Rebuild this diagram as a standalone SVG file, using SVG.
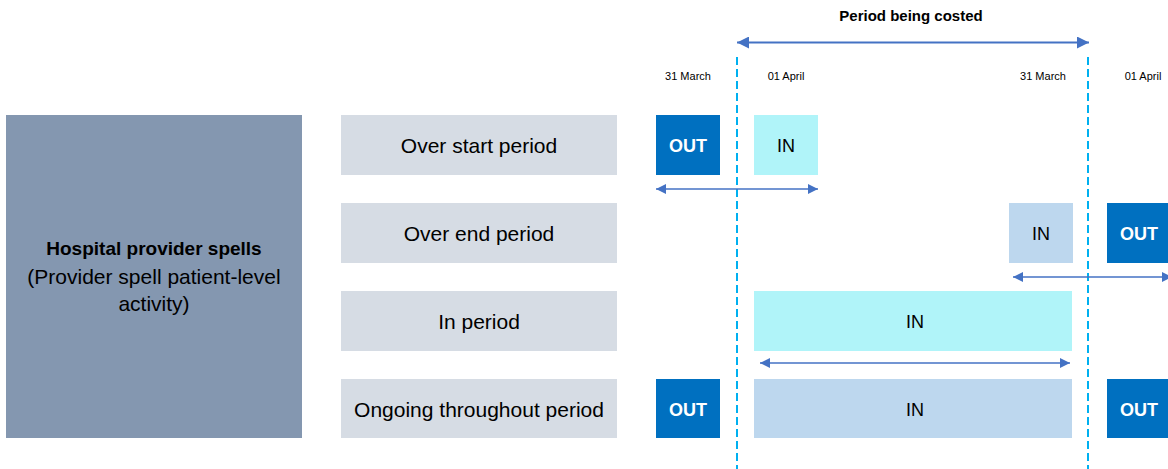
<svg xmlns="http://www.w3.org/2000/svg" width="1168" height="469" viewBox="0 0 1168 469">
<style>
text{font-family:"Liberation Sans",Arial,sans-serif;}
.lbl{fill:#D6DCE4;}
.lt{font-size:21px;fill:#000;text-anchor:middle;}
.out{fill:#0070C0;}
.ot{font-size:18px;font-weight:bold;fill:#fff;text-anchor:middle;}
.in1{fill:#B0F4F9;}
.in2{fill:#BDD7EE;}
.it{font-size:18px;fill:#000;text-anchor:middle;}
.date{font-size:11px;fill:#000;text-anchor:middle;}
.arr{stroke:#4472C4;stroke-width:1.5;fill:none;marker-start:url(#ah);marker-end:url(#ah);}
.dash{stroke:#00B0F0;stroke-width:2;stroke-dasharray:8,4;fill:none;}
</style>
<defs>
<marker id="ah" viewBox="0 0 10 10" refX="10" refY="5" markerWidth="11" markerHeight="10" orient="auto-start-reverse" markerUnits="userSpaceOnUse">
<path d="M0,0 L10,5 L0,10 z" fill="#4472C4"/>
</marker>
<marker id="ahL" viewBox="0 0 10 10" refX="10" refY="5" markerWidth="12" markerHeight="12" orient="auto-start-reverse" markerUnits="userSpaceOnUse">
<path d="M0,0 L10,5 L0,10 z" fill="#4472C4"/>
</marker>
</defs>
<rect width="1168" height="469" fill="#fff"/>

<g id="title">
<text x="911" y="21" font-size="15" font-weight="bold" text-anchor="middle">Period being costed</text>
</g>
<g id="dates">
<text class="date" x="688" y="80">31 March</text>
<text class="date" x="786" y="80">01 April</text>
<text class="date" x="1043" y="80">31 March</text>
<text class="date" x="1143" y="80">01 April</text>
</g>

<g id="main">
<rect x="6" y="115" width="296" height="323" fill="#8497B0"/>
<text x="154" y="255" font-size="19" font-weight="bold" text-anchor="middle">Hospital provider spells</text>
<text x="154" y="284" font-size="21" text-anchor="middle">(Provider spell patient-level</text>
<text x="154" y="311" font-size="21" text-anchor="middle">activity)</text>
</g>

<g id="row1-label"><rect class="lbl" x="341" y="115" width="276" height="60"/><text class="lt" x="479" y="153">Over start period</text></g>
<g id="row2-label"><rect class="lbl" x="341" y="203" width="276" height="60"/><text class="lt" x="479" y="241">Over end period</text></g>
<g id="row3-label"><rect class="lbl" x="341" y="291" width="276" height="60"/><text class="lt" x="479" y="329">In period</text></g>
<g id="row4-label"><rect class="lbl" x="341" y="379" width="276" height="59"/><text class="lt" x="479" y="417">Ongoing throughout period</text></g>

<g id="r1-out"><rect class="out" x="656" y="115" width="64" height="60"/><text class="ot" x="688" y="152">OUT</text></g>
<g id="r1-in"><rect class="in1" x="754" y="115" width="64" height="60"/><text class="it" x="786" y="152">IN</text></g>
<g id="r2-in"><rect class="in2" x="1009" y="203" width="64" height="60"/><text class="it" x="1041" y="240">IN</text></g>
<g id="r2-out"><rect class="out" x="1107" y="203" width="64" height="60"/><text class="ot" x="1139" y="240">OUT</text></g>
<g id="r3-in"><rect class="in1" x="754" y="291" width="318" height="60"/><text class="it" x="915" y="328">IN</text></g>
<g id="r4-out1"><rect class="out" x="656" y="379" width="64" height="59"/><text class="ot" x="688" y="416">OUT</text></g>
<g id="r4-in"><rect class="in2" x="754" y="379" width="318" height="59"/><text class="it" x="915" y="416">IN</text></g>
<g id="r4-out2"><rect class="out" x="1107" y="379" width="64" height="59"/><text class="ot" x="1139" y="416">OUT</text></g>

<g id="connectors">
<line class="dash" x1="737" y1="57" x2="737" y2="469"/>
<line class="dash" x1="1088" y1="57" x2="1088" y2="469"/>
<line x1="737" y1="42.5" x2="1089" y2="42.5" stroke="#4472C4" stroke-width="2" marker-start="url(#ahL)" marker-end="url(#ahL)"/>
<line class="arr" x1="656" y1="189" x2="818" y2="189"/>
<line class="arr" x1="1013" y1="277" x2="1172" y2="277"/>
<line class="arr" x1="760" y1="363" x2="1070" y2="363"/>
</g>
</svg>
